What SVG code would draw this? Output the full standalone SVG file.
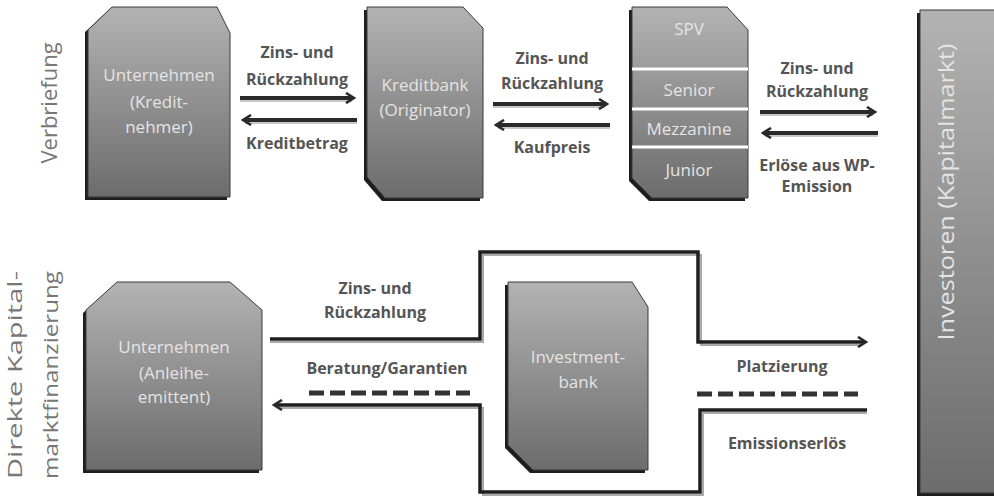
<svg xmlns="http://www.w3.org/2000/svg" width="994" height="497" viewBox="0 0 994 497">
<defs>
<linearGradient id="g" x1="0" y1="0" x2="0" y2="1">
<stop offset="0" stop-color="#b3b3b3"/>
<stop offset="1" stop-color="#6c6c6c"/>
</linearGradient>
<marker id="ah" viewBox="0 0 12 12" refX="8" refY="6" markerWidth="12" markerHeight="12" markerUnits="userSpaceOnUse" orient="auto-start-reverse">
<path d="M2,1 L10,6 L2,11" fill="none" stroke="#2a2a2a" stroke-width="2.6" stroke-linejoin="miter"/>
</marker>
<style>
.box{fill:url(#g);stroke:#3a3a3a;stroke-width:1}
.sh{fill:#1e1e1e}
.bt{font-family:"Open Sans","DejaVu Sans",sans-serif;font-size:17px;fill:#e4e4e4;text-anchor:middle}
.lb{font-family:"Open Sans","DejaVu Sans",sans-serif;font-size:16px;font-weight:bold;fill:#555;text-anchor:middle}
.side{font-family:"Open Sans","DejaVu Sans",sans-serif;font-size:22px;fill:#777;text-anchor:middle}
.ar{fill:none;stroke:#2a2a2a;stroke-width:4}
.arh{fill:none;stroke:#c8c8c8;stroke-width:2}
.ln{fill:none;stroke:#1e1e1e;stroke-width:3.5}
.lnh{fill:none;stroke:#aaa;stroke-width:2}
.dash{fill:none;stroke:#333;stroke-width:5;stroke-dasharray:15 6}
.div{stroke:#fff;stroke-width:3}
</style>
</defs>
<rect width="994" height="497" fill="#fff"/>

<g id="labels-side">
<text class="side" transform="translate(57,103) rotate(-90)">Verbriefung</text>
<text class="side" style="font-size:20px" transform="translate(22,375) rotate(-90)" textLength="208" lengthAdjust="spacingAndGlyphs">Direkte Kapital-</text>
<text class="side" style="font-size:20px" transform="translate(58,375) rotate(-90)" textLength="208" lengthAdjust="spacingAndGlyphs">marktfinanzierung</text>
</g>

<g id="n-kreditnehmer">
<path class="sh" d="M85,32 L109,10 L214,10 L227,36 L227,200 L85,200 Z"/>
<path class="box" d="M88,30 L112,7 L217,7 L230,33 L230,197 L88,197 Z"/>
<text class="bt" x="159" y="81">Unternehmen</text>
<text class="bt" x="159" y="108">(Kredit-</text>
<text class="bt" x="159" y="133">nehmer)</text>
</g>

<g id="n-kreditbank">
<path class="sh" d="M364,10 L460,10 L480,31 L480,201 L382,201 L364,180 Z"/>
<path class="box" d="M367,7 L463,7 L483,28 L483,198 L385,198 L367,177 Z"/>
<text class="bt" x="425" y="91">Kreditbank</text>
<text class="bt" x="425" y="116">(Originator)</text>
</g>

<g id="n-spv">
<path class="sh" d="M629,10 L724,10 L745,33 L745,201 L649,201 L629,181 Z"/>
<path class="box" d="M632,7 L727,7 L748,30 L748,198 L652,198 L632,178 Z"/>
<line class="div" x1="632" y1="69" x2="748" y2="69"/>
<line class="div" x1="632" y1="109" x2="748" y2="109"/>
<line class="div" x1="632" y1="147" x2="748" y2="147"/>
<text class="bt" x="689" y="35">SPV</text>
<text class="bt" x="689" y="96">Senior</text>
<text class="bt" x="689" y="135">Mezzanine</text>
<text class="bt" x="689" y="176">Junior</text>
</g>

<g id="n-investoren">
<rect class="sh" x="917" y="13" width="80" height="483"/>
<rect class="box" x="920" y="10" width="80" height="483"/>
<text class="bt" transform="translate(954,192) rotate(-90)" style="font-size:21px" textLength="297" lengthAdjust="spacingAndGlyphs">Investoren (Kapitalmarkt)</text>
</g>

<g id="n-emittent">
<path class="sh" d="M83,313 L114,285 L227,285 L259,313 L259,473 L83,473 Z"/>
<path class="box" d="M86,310 L117,282 L230,282 L262,310 L262,470 L86,470 Z"/>
<text class="bt" x="174" y="353">Unternehmen</text>
<text class="bt" x="174" y="379">(Anleihe-</text>
<text class="bt" x="174" y="403">emittent)</text>
</g>

<g id="n-investmentbank">
<path class="sh" d="M505,285 L629,285 L645,310 L645,473 L530,473 L505,448 Z"/>
<path class="box" d="M508,282 L632,282 L648,307 L648,470 L533,470 L508,445 Z"/>
<text class="bt" x="578" y="363">Investment-</text>
<text class="bt" x="578" y="388">bank</text>
</g>

<g id="connectors">
<line class="arh" x1="240" y1="101" x2="352" y2="101"/>
<line class="ar" x1="240" y1="98" x2="352" y2="98" marker-end="url(#ah)"/>
<line class="arh" x1="245" y1="123" x2="357" y2="123"/>
<line class="ar" x1="245" y1="120" x2="357" y2="120" marker-start="url(#ah)"/>

<line class="arh" x1="493" y1="107" x2="605" y2="107"/>
<line class="ar" x1="493" y1="104" x2="605" y2="104" marker-end="url(#ah)"/>
<line class="arh" x1="498" y1="128" x2="610" y2="128"/>
<line class="ar" x1="498" y1="125" x2="610" y2="125" marker-start="url(#ah)"/>

<line class="arh" x1="760" y1="115" x2="873" y2="115"/>
<line class="ar" x1="760" y1="112" x2="873" y2="112" marker-end="url(#ah)"/>
<line class="arh" x1="765" y1="136" x2="878" y2="136"/>
<line class="ar" x1="765" y1="133" x2="878" y2="133" marker-start="url(#ah)"/>

<path class="lnh" d="M270,342 H483 V255 H701 V345 H862"/>
<path class="ln" d="M270,339 H480 V252 H698 V342 H864" marker-end="url(#ah)"/>
<path class="lnh" d="M867,413 H703 V495 H483 V408 H278"/>
<path class="ln" d="M867,410 H700 V492 H480 V405 H276" marker-end="url(#ah)"/>

<line class="dash" x1="309" y1="393" x2="470" y2="393"/>
<line class="dash" x1="697" y1="394" x2="858" y2="394"/>
</g>

<g id="connector-labels">
<text class="lb" x="297" y="58">Zins- und</text>
<text class="lb" x="297" y="85">Rückzahlung</text>
<text class="lb" x="297" y="149">Kreditbetrag</text>
<text class="lb" x="552" y="64">Zins- und</text>
<text class="lb" x="552" y="89">Rückzahlung</text>
<text class="lb" x="552" y="153">Kaufpreis</text>
<text class="lb" x="817" y="74">Zins- und</text>
<text class="lb" x="817" y="97">Rückzahlung</text>
<text class="lb" x="817" y="171">Erlöse aus WP-</text>
<text class="lb" x="817" y="192">Emission</text>
<text class="lb" x="375" y="294">Zins- und</text>
<text class="lb" x="375" y="318">Rückzahlung</text>
<text class="lb" x="387" y="374">Beratung/Garantien</text>
<text class="lb" x="782" y="372">Platzierung</text>
<text class="lb" x="787" y="449">Emissionserlös</text>
</g>
</svg>
